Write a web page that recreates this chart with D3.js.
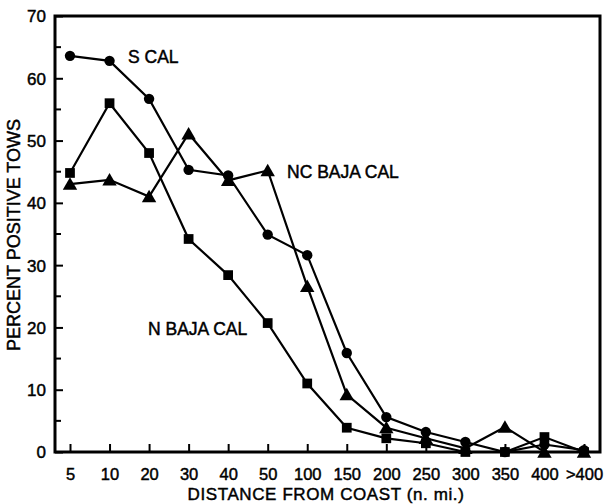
<!DOCTYPE html>
<html><head><meta charset="utf-8">
<script src="https://cdn.jsdelivr.net/npm/d3@7"></script>
<style>body{margin:0;background:#fff}svg{display:block}text{font-family:"Liberation Sans",Arial,Helvetica,sans-serif;fill:#000;stroke:#000;stroke-width:0.45px}</style>
</head><body><svg id="c" width="605" height="504"></svg>
<script>
const categories = ["5","10","20","30","40","50","100","150","200","250","300","350","400",">400"];
const sCal      = [63.6,62.8,56.7,45.3,44.4,34.9,31.6,15.9,5.6,3.2,1.6,0,1.2,0.3];
const nBajaCal  = [44.8,56.0,48.0,34.2,28.4,20.7,11.0,3.9,2.2,1.4,0,0,2.4,0];
const ncBajaCal = [43.0,43.7,41.0,51.1,43.6,45.2,26.6,9.2,3.9,2.2,0.6,4.0,0,0];
const yTicks = [0,10,20,30,40,50,60,70];
const yMinor = [5,15,25,35,45,55,65];

const svg = d3.select("#c");
const L=55, R=600, T=16, B=452;
const x = d3.scalePoint().domain(categories).range([70,584]);
const y = d3.scaleLinear().domain([0,70]).range([B,T]);

// y axis
const ya = svg.append("g").attr("transform",`translate(${L},0)`)
  .call(d3.axisLeft(y).tickValues(yTicks).tickSize(-8).tickPadding(10));
ya.select(".domain").remove();
ya.selectAll(".tick line").attr("stroke","#000").attr("stroke-width",2);
ya.selectAll(".tick text").attr("font-size",17).attr("dy","0.35em").attr("x",-9);
svg.append("g").selectAll("line").data(yMinor).join("line")
  .attr("x1",L).attr("x2",L+6).attr("y1",d=>y(d)).attr("y2",d=>y(d))
  .attr("stroke","#000").attr("stroke-width",2);

// x axis
const xa = svg.append("g").attr("transform",`translate(0,${B})`)
  .call(d3.axisBottom(x).tickSize(-8).tickPadding(20));
xa.select(".domain").remove();
xa.selectAll(".tick line").attr("stroke","#000").attr("stroke-width",2);
xa.selectAll(".tick text").attr("font-size",16.5).attr("dy","0").attr("y",28);

// frame
svg.append("rect").attr("x",L).attr("y",T).attr("width",R-L).attr("height",B-T)
  .attr("fill","none").attr("stroke","#000").attr("stroke-width",3);

// series
const line = d3.line().x((d,i)=>x(categories[i])).y(d=>y(d));
const series = [
  {vals:sCal, m:"circle"},
  {vals:nBajaCal, m:"square"},
  {vals:ncBajaCal, m:"triangle"}
];
const sym = {circle:d3.symbol(d3.symbolCircle,85), square:d3.symbol(d3.symbolSquare,95), triangle:d3.symbol(d3.symbolTriangle,90)};
series.forEach(s=>{
  svg.append("path").datum(s.vals).attr("d",line).attr("fill","none").attr("stroke","#000").attr("stroke-width",2.2);
  svg.append("g").selectAll("path").data(s.vals).join("path")
    .attr("transform",(d,i)=>`translate(${x(categories[i])},${y(d)+(s.m==="triangle"?1.5:0)})`)
    .attr("d",sym[s.m]()).attr("fill","#000");
});

// labels
const lab = (t,xx,yy)=>svg.append("text").attr("x",xx).attr("y",yy).attr("font-size",17.5).text(t);
lab("S CAL",128,63);
lab("NC BAJA CAL",287,178);
lab("N BAJA CAL",148,335);

svg.append("text").attr("x",326).attr("y",500).attr("text-anchor","middle").attr("font-size",17)
  .attr("letter-spacing","0.6px").text("DISTANCE FROM COAST (n. mi.)");
svg.append("text").attr("transform","translate(20,235) rotate(-90)").attr("text-anchor","middle").attr("font-size",18).text("PERCENT POSITIVE TOWS");
</script></body></html>
